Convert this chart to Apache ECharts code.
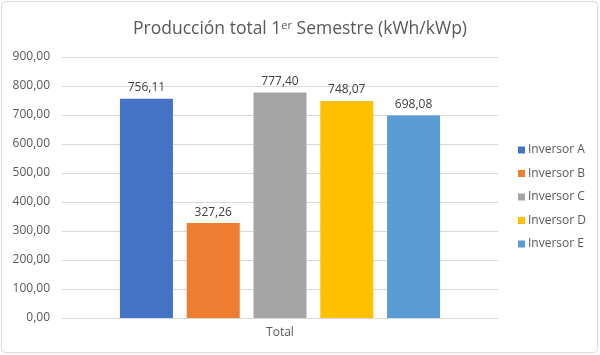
<!DOCTYPE html>
<html>
<head>
<meta charset="utf-8">
<script src="https://cdn.jsdelivr.net/npm/echarts@6/dist/echarts.min.js"></script>
<style>
html,body{margin:0;padding:0;background:#fff;}
#c{position:absolute;left:0;top:0;width:600px;height:355px;}
</style>
</head>
<body>
<div id="c"></div>
<script>
var categories = ['Total'];
var seriesNames = ['Inversor A', 'Inversor B', 'Inversor C', 'Inversor D', 'Inversor E'];
var seriesValues = [756.11, 327.26, 777.40, 748.07, 698.08];
var seriesColors = ['#4472C4', '#ED7D31', '#A5A5A5', '#FFC000', '#5B9BD5'];
var yTicks = { min: 0, max: 900, interval: 100 };

function fmt(v) { return v.toFixed(2).replace('.', ','); }

var chart = echarts.init(document.getElementById('c'));
var font = '"Open Sans", "Liberation Sans", sans-serif';
var series = seriesNames.map(function (n, i) {
  return {
    name: n,
    type: 'bar',
    data: [seriesValues[i]],
    barWidth: 53,
    barGap: '26%',
    itemStyle: { color: seriesColors[i] },
    label: {
      show: true, position: 'top', distance: 5,
      color: '#404040', fontSize: 12, fontFamily: font,
      formatter: function (p) { return fmt(p.value); }
    }
  };
});

chart.setOption({
  animation: false,
  backgroundColor: '#fff',
  title: {
    text: '{m|Producción total 1}{s|er}{m| Semestre (kWh/kWp)}',
    left: 'center', top: 15,
    textStyle: {
      fontWeight: 'normal',
      rich: {
        m: { fontSize: 17.5, fontWeight: 'normal', color: '#595959', fontFamily: font },
        s: { fontSize: 11, fontWeight: 'normal', color: '#595959', fontFamily: font, verticalAlign: 'top', padding: [0, 0, 8, 0] }
      }
    }
  },
  graphic: [{
    type: 'rect', shape: { x: 1.5, y: 1.5, width: 596, height: 351, r: 4 },
    style: { fill: 'none', stroke: '#D9D9D9', lineWidth: 1 }, silent: true, z: -1
  }],
  legend: {
    orient: 'vertical', left: 513, top: 139,
    itemWidth: 7, itemHeight: 7, itemGap: 11.5,
    icon: 'rect',
    textStyle: { color: '#595959', fontSize: 12, fontFamily: font, padding: [0, 0, 0, -2] },
    data: seriesNames
  },
  grid: { left: 62, right: 102, top: 57, bottom: 37, containLabel: false },
  xAxis: {
    type: 'category', data: categories,
    axisLine: { lineStyle: { color: '#D9D9D9' } },
    axisTick: { show: false },
    axisLabel: { color: '#595959', fontSize: 12, fontFamily: font, margin: 9 }
  },
  yAxis: {
    type: 'value', min: yTicks.min, max: yTicks.max, interval: yTicks.interval,
    axisLine: { show: false }, axisTick: { show: false },
    splitLine: { lineStyle: { color: '#D9D9D9' } },
    axisLabel: { color: '#595959', fontSize: 12, fontFamily: font, margin: 12, formatter: fmt }
  },
  series: series
});
</script>
</body>
</html>
